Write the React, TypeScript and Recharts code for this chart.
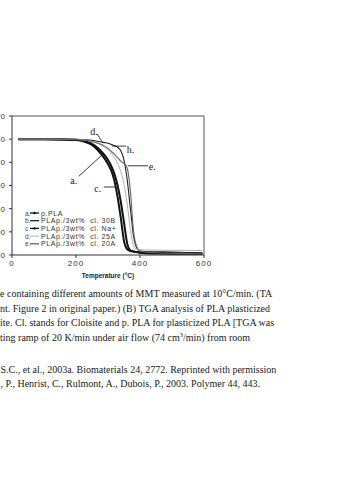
import { LineChart, Line, XAxis, YAxis, ReferenceLine, ReferenceDot } from "recharts";

// temperatures (°C) shared by all curves
const temps = [20, 100, 200, 230, 250, 270, 290, 300, 310, 320, 330, 340, 350, 360, 370, 380, 390, 400, 420, 450, 500, 550, 595];

// residual weight (%)
const pPLA = [100, 100, 99.3, 97.5, 95, 90, 83, 78.5, 73, 64, 50, 32, 12, 5, 3.5, 3, 2.5, 2.2, 2, 1.8, 1.5, 1.2, 1];
const cl30B = [100, 100, 99.8, 99.5, 99, 98, 97, 96.5, 95.5, 94.5, 93, 90, 82, 65, 40, 16, 6, 3.5, 3, 2.8, 2.5, 2.2, 2];
const clNa = [100, 100, 99.5, 98, 96, 92, 86, 82, 77, 70, 60, 46, 28, 10, 4, 3, 2.5, 2, 1.5, 1.2, 1, 1, 1];
const cl25A = [100, 100, 99.7, 99, 98, 96, 93, 91, 88, 84, 79, 72, 61, 44, 22, 8, 5, 4.5, 4.3, 4.2, 4, 4, 3.8];
const cl20A = [100, 100, 99.7, 99, 98, 96.5, 94, 92, 89.5, 87, 84, 81, 79, 75, 55, 20, 7, 3.5, 2.5, 2, 1.5, 1.2, 1];

const xTicks = [0, 200, 400, 600];
const yTicks = [0, 20, 40, 60, 80, 100, 120];

const legendTags = ["a.", "b.", "c.", "d.", "e."];
const legendNames = ["p.PLA", "PLAp./3wt%  cl. 30B", "PLAp./3wt%  cl. Na+", "PLAp./3wt%  cl. 25A", "PLAp./3wt%  cl. 20A"];

// curve labels: text, label point, leader start, leader end (data units)
const tagText = ["d.", "h.", "e.", "a.", "c."];
const tagAt = [[256, 107], [370, 91], [438, 76], [193, 64], [268, 57]];
const leaderFrom = [[266, 104.5], [312, 94], [362, 77], [209, 68], [287, 58.7]];
const leaderTo = [[284, 96.7], [356, 94], [425, 77], [278, 85.5], [325, 58.7]];

const captionLines = [
  "e containing different amounts of MMT measured at 10°C/min. (TA",
  "nt. Figure 2 in original paper.) (B) TGA analysis of PLA plasticized",
  "ite. Cl. stands for Cloisite and p. PLA for plasticized PLA [TGA was",
  "ting ramp of 20 K/min under air flow (74 cm",
];
const refLines = [
  "S.C., et al., 2003a. Biomaterials 24, 2772. Reprinted with permission",
  ", P., Henrist, C., Rulmont, A., Dubois, P., 2003. Polymer 44, 443.",
];

const data = temps.map((t, i) => ({
  t,
  a: pPLA[i],
  b: cl30B[i],
  c: clNa[i],
  d: cl25A[i],
  e: cl20A[i],
}));

const styles = [
  { key: "a", stroke: "#111", width: 2 },
  { key: "b", stroke: "#222", width: 1.1 },
  { key: "c", stroke: "#111", width: 2 },
  { key: "d", stroke: "#b0b0b0", width: 1 },
  { key: "e", stroke: "#666", width: 1.1 },
];

const tickFont = { fontFamily: "Liberation Sans, Arial, sans-serif", fontSize: 8, letterSpacing: 1, fill: "#333" };

const captionStyle: React.CSSProperties = {
  position: "absolute",
  left: 0,
  whiteSpace: "nowrap",
  fontFamily: "Liberation Serif, serif",
  fontSize: 10,
  lineHeight: "12px",
  color: "#1a1a1a",
};

export default function App() {
  return (
    <div style={{ position: "absolute", left: 0, top: 0, width: 359, height: 480, overflow: "hidden", background: "#fff" }}>
      <div style={{ position: "absolute", left: 0, top: 0 }}>
        <LineChart width={212} height={282} data={data} margin={{ top: 116, right: 8, left: 0, bottom: 0 }}>
          <XAxis
            dataKey="t"
            type="number"
            domain={[0, 600]}
            ticks={xTicks}
            tickSize={3}
            tickMargin={2}
            height={27}
            stroke="#333"
            tick={tickFont}
            label={{
              value: "Temperature (°C)",
              position: "insideBottom",
              offset: 4,
              style: { fontFamily: "Liberation Sans, Arial, sans-serif", fontSize: 6.5, fontWeight: "bold", fill: "#222" },
            }}
          />
          <YAxis
            type="number"
            domain={[0, 120]}
            ticks={yTicks}
            width={12}
            tickSize={3}
            tickMargin={3}
            stroke="#333"
            tick={tickFont}
          />
          <ReferenceLine y={120} stroke="#555" strokeWidth={1} />
          <ReferenceLine x={600} stroke="#555" strokeWidth={1} />
          {styles.map((s) => (
            <Line
              key={s.key}
              type="monotone"
              dataKey={s.key}
              stroke={s.stroke}
              strokeWidth={s.width}
              dot={false}
              isAnimationActive={false}
            />
          ))}
          {tagText.map((txt, i) => (
            <ReferenceLine
              key={"l" + i}
              segment={[
                { x: leaderFrom[i][0], y: leaderFrom[i][1] },
                { x: leaderTo[i][0], y: leaderTo[i][1] },
              ]}
              stroke="#222"
              strokeWidth={0.9}
            />
          ))}
          {tagText.map((txt, i) => (
            <ReferenceDot
              key={"t" + i}
              x={tagAt[i][0]}
              y={tagAt[i][1]}
              shape={(p: any) => (
                <text
                  x={p.cx}
                  y={p.cy}
                  textAnchor="middle"
                  dominantBaseline="central"
                  style={{ fontFamily: "Liberation Serif, serif", fontSize: 10, fill: "#222" }}
                >
                  {txt}
                </text>
              )}
            />
          ))}
        </LineChart>
      </div>

      {/* legend inside the plot */}
      <svg width={120} height={40} style={{ position: "absolute", left: 22, top: 208 }}>
        {legendTags.map((tag, i) => {
          const y = 5 + i * 7.7;
          const s = styles[i];
          const marker = i === 0 || i === 2;
          return (
            <g key={tag}>
              <text x={3} y={y} dominantBaseline="central" style={{ fontFamily: "Liberation Sans, sans-serif", fontSize: 6.5, fill: "#444" }}>
                {tag}
              </text>
              <line x1={8} x2={17} y1={y} y2={y} stroke={s.stroke} strokeWidth={i === 3 ? 1 : 1.3} />
              {marker && <circle cx={12.5} cy={y} r={1.2} fill="#111" />}
              <text
                x={19}
                y={y}
                dominantBaseline="central"
                style={{ fontFamily: "Liberation Sans, sans-serif", fontSize: 7, letterSpacing: 0.6, fill: "#333", whiteSpace: "pre" }}
              >
                {legendNames[i]}
              </text>
            </g>
          );
        })}
      </svg>

      {/* caption text */}
      {captionLines.map((ln, i) => (
        <div key={i} style={{ ...captionStyle, top: 288 + i * 14.6 }}>
          {ln}
          {i === 3 && (
            <>
              <sup style={{ fontSize: 6.5, lineHeight: 0 }}>3</sup>/min) from room
            </>
          )}
        </div>
      ))}
      {refLines.map((ln, i) => (
        <div key={"r" + i} style={{ ...captionStyle, left: 0.5, top: 364 + i * 14.3 }}>
          {ln}
        </div>
      ))}
    </div>
  );
}
